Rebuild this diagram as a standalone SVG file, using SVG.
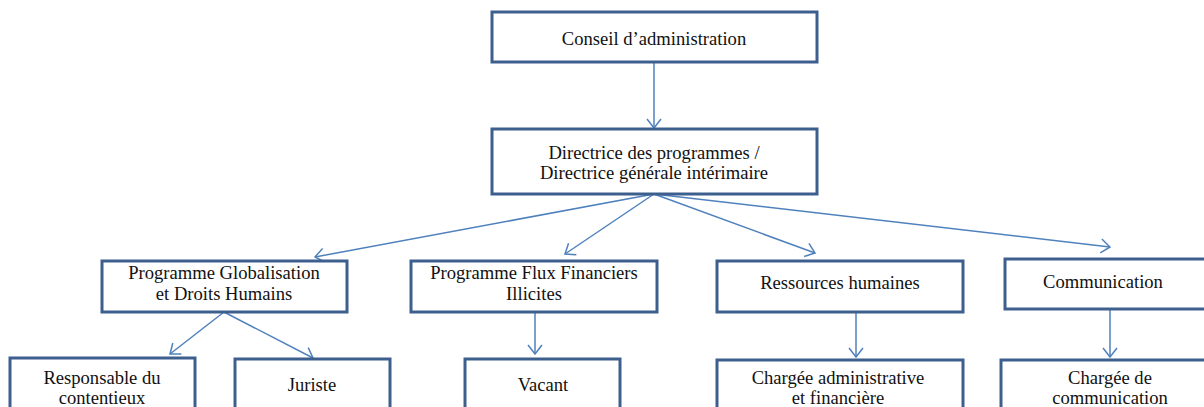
<svg xmlns="http://www.w3.org/2000/svg" width="1204" height="407" viewBox="0 0 1204 407">
<style>
.box{fill:#fff;stroke:#3c5f8d;stroke-width:3}
.t{font-family:"Liberation Serif",serif;font-size:18.6px;fill:#111;text-anchor:middle}
.c{stroke:#4f81bd;stroke-width:1.5;fill:none}
</style>
<defs>
<marker id="a" viewBox="0 0 16 16" refX="15" refY="8" markerWidth="16" markerHeight="16" markerUnits="userSpaceOnUse" orient="auto">
<path d="M6,1 L15,8 L6,15" fill="none" stroke="#4f81bd" stroke-width="1.5"/>
</marker>
</defs>
<rect width="1204" height="407" fill="#fff"/>
<g id="connectors">
<line class="c" x1="654" y1="62" x2="654" y2="128" marker-end="url(#a)"/>
<line class="c" x1="654" y1="194" x2="315" y2="257" marker-end="url(#a)"/>
<line class="c" x1="654" y1="194" x2="565" y2="254" marker-end="url(#a)"/>
<line class="c" x1="654" y1="194" x2="815" y2="253" marker-end="url(#a)"/>
<line class="c" x1="654" y1="194" x2="1110" y2="247" marker-end="url(#a)"/>
<line class="c" x1="224" y1="312" x2="170" y2="354" marker-end="url(#a)"/>
<line class="c" x1="224" y1="312" x2="313" y2="358" marker-end="url(#a)"/>
<line class="c" x1="535" y1="312" x2="535" y2="354" marker-end="url(#a)"/>
<line class="c" x1="856" y1="312" x2="856" y2="357" marker-end="url(#a)"/>
<line class="c" x1="1110" y1="309" x2="1110" y2="357" marker-end="url(#a)"/>
</g>
<g id="conseil"><rect class="box" x="492" y="12" width="325" height="50"/><text class="t" x="654" y="45">Conseil d’administration</text></g>
<g id="directrice"><rect class="box" x="492" y="129" width="325" height="65"/><text class="t" x="654" y="159">Directrice des programmes /</text><text class="t" x="654" y="179">Directrice générale intérimaire</text></g>
<g id="pgdh"><rect class="box" x="102" y="261" width="245" height="51"/><text class="t" x="224" y="279">Programme Globalisation</text><text class="t" x="224" y="300">et Droits Humains</text></g>
<g id="pffi"><rect class="box" x="411" y="261" width="246" height="51"/><text class="t" x="534" y="279">Programme Flux Financiers</text><text class="t" x="534" y="300">Illicites</text></g>
<g id="rh"><rect class="box" x="717" y="261" width="246" height="51"/><text class="t" x="840" y="289">Ressources humaines</text></g>
<g id="comm"><rect class="box" x="1005" y="259" width="210" height="50"/><text class="t" x="1103" y="288">Communication</text></g>
<g id="responsable"><rect class="box" x="10" y="358" width="185" height="60"/><text class="t" x="102" y="384">Responsable du</text><text class="t" x="102" y="404">contentieux</text></g>
<g id="juriste"><rect class="box" x="235" y="359" width="155" height="60"/><text class="t" x="312" y="391">Juriste</text></g>
<g id="vacant"><rect class="box" x="465" y="359" width="155" height="60"/><text class="t" x="543" y="391">Vacant</text></g>
<g id="chargee-admin"><rect class="box" x="717" y="360" width="246" height="60"/><text class="t" x="838" y="384">Chargée administrative</text><text class="t" x="838" y="404">et financière</text></g>
<g id="chargee-comm"><rect class="box" x="1001" y="360" width="215" height="60"/><text class="t" x="1110" y="384">Chargée de</text><text class="t" x="1110" y="404">communication</text></g>
</svg>
